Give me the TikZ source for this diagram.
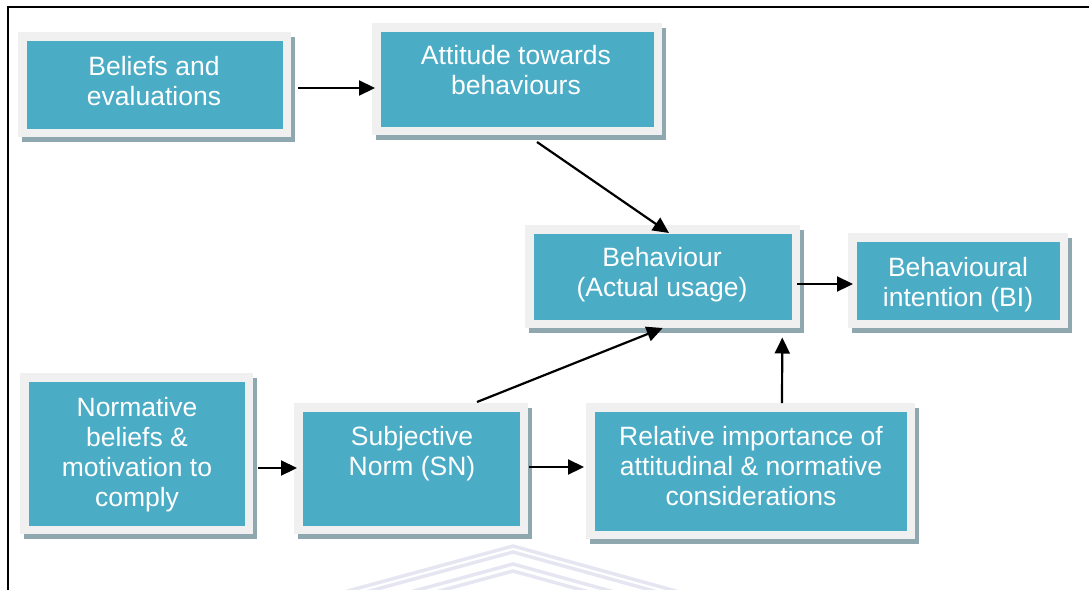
\documentclass[tikz,border=0pt]{standalone}
\usepackage{fontspec}
\setmainfont{Liberation Sans}
\usetikzlibrary{arrows.meta,calc,backgrounds}

\definecolor{boxteal}{RGB}{75,172,198}
\definecolor{boxrim}{RGB}{240,240,240}
\definecolor{boxshade}{RGB}{143,168,176}
\definecolor{crest}{RGB}{230,230,243}

% fixed-height line so every text line takes exactly 30pt
\newcommand\lnstrut{\rule[-6pt]{0pt}{30pt}}

\begin{document}
\begin{tikzpicture}[x=1pt,y=-1pt,
  stage/.style={rectangle, draw=boxrim, line width=8.5pt, fill=boxteal, inner sep=0pt},
  stagetext/.style={text=white, align=center, inner sep=0pt, font=\fontsize{26.5}{30}\selectfont},
  flow/.style={draw=black, line width=2.2pt, -{Triangle[length=16pt,width=15pt]}},
  shade/.style={fill=boxshade},
  crestline/.style={draw=crest, line width=3.5pt},
]
\useasboundingbox (0,0) rectangle (1089,589);

% boxes (anchors sit on the outer edge of the light rim)
\node[stage, minimum width=264.5pt, minimum height=96.5pt]  (b1) at (154.5,84.5)  {};
\node[stage, minimum width=281.5pt, minimum height=103.5pt] (b2) at (517,79)      {};
\node[stage, minimum width=266.5pt, minimum height=94.5pt]  (b3) at (662.5,276.5) {};
\node[stage, minimum width=211.5pt, minimum height=86.5pt]  (b4) at (958,280.5)   {};
\node[stage, minimum width=224.5pt, minimum height=152.5pt] (b5) at (136.5,453.5) {};
\node[stage, minimum width=225.5pt, minimum height=122.5pt] (b6) at (411,468.5)   {};
\node[stage, minimum width=320.5pt, minimum height=127.5pt] (b7) at (750.5,471)   {};

% faint crest in the background, drop shadows and the frame
\begin{scope}[on background layer]
  \foreach \dy in {0,6,18,25}
    \draw[crestline] (300,604+\dy) -- (513,546+\dy) -- (730,606+\dy);
  \foreach \b in {b1,b2,b3,b4,b5,b6,b7}
    \fill[shade] ($(\b.north west)+(4,5)$) rectangle ($(\b.south east)+(4,5)$);
\end{scope}
\draw[line width=2pt] (7.7,600) -- (7.7,6.7) -- (1100,6.7);

% box texts
\node[stagetext] (t1) at (154,81)   {\lnstrut Beliefs and\\\lnstrut evaluations};
\node[stagetext] (t2) at (516,70)   {\lnstrut Attitude towards\\\lnstrut behaviours};
\node[stagetext] (t3) at (662,272.5){\lnstrut Behaviour\\\lnstrut (Actual usage)};
\node[stagetext] (t4) at (958,282)  {\lnstrut Behavioural\\\lnstrut intention (BI)};
\node[stagetext] (t5) at (137,452)  {\lnstrut Normative\\\lnstrut beliefs \&\\\lnstrut motivation to\\\lnstrut comply};
\node[stagetext] (t6) at (412,451.5){\lnstrut Subjective\\\lnstrut Norm (SN)};
\node[stagetext] (t7) at (751,466)  {\lnstrut Relative importance of\\\lnstrut attitudinal \& normative\\\lnstrut considerations};

% connectors
\draw[flow] ($(b1.east)+(7,3.5)$)    -- ($(b2.west)+(3,9)$);
\draw[flow] ($(b2.south)+(20,7)$)    -- ($(b3.north)+(6.5,8)$);
\draw[flow] ($(b3.east)+(-3,7.5)$)   -- ($(b4.west)+(5,3.5)$);
\draw[flow] ($(b6.north)+(66,-1)$)   -- ($(b3.south)+(0.2,0)$);
\draw[flow] ($(b7.north)+(31.5,0)$)  -- ($(b3.south)+(119.8,9.5)$);
\draw[flow] ($(b5.east)+(5,14.5)$)   -- ($(b6.west)+(3,-0.5)$);
\draw[flow] ($(b6.east)+(1,-1.5)$)   -- ($(b7.west)+(-2,-4)$);
\end{tikzpicture}
\end{document}
